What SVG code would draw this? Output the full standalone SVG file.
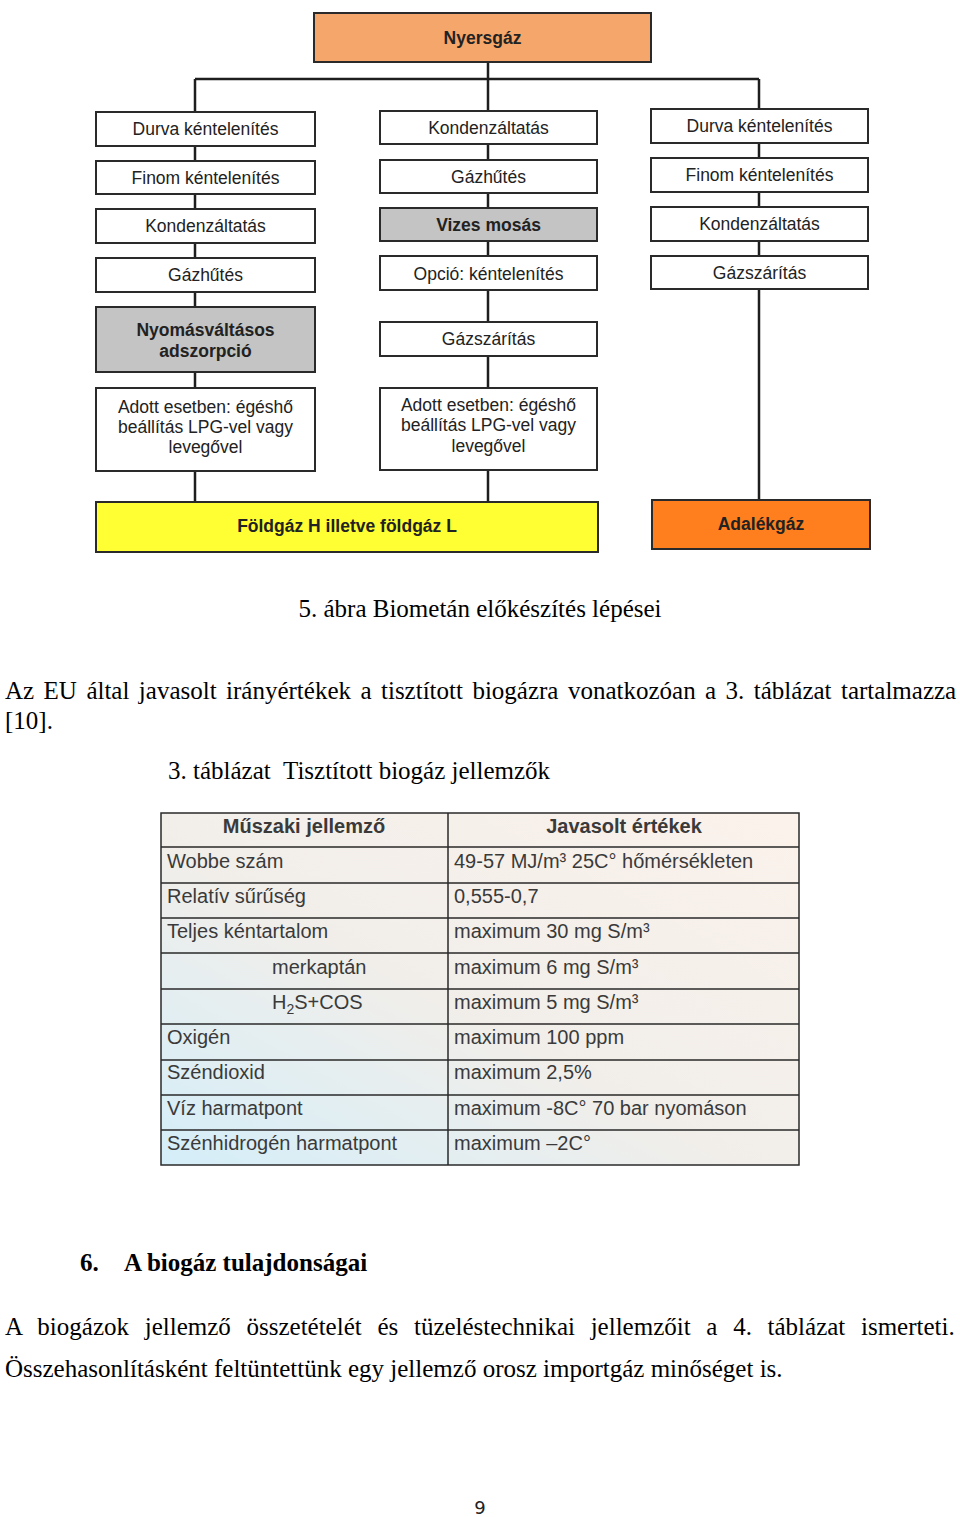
<svg xmlns="http://www.w3.org/2000/svg" width="960" height="1517" viewBox="0 0 960 1517">
<defs>
<style>
.box{fill:#fff;stroke:#2a2a2a;stroke-width:2}
.grey{fill:#c4c4c4}
.bl{font-family:"Liberation Sans",Arial,sans-serif;font-size:17.5px;fill:#222;text-anchor:middle}
.b{font-weight:bold}
.conn{stroke:#1e1e1e;stroke-width:2.5;fill:none}
.serif{font-family:"Liberation Serif","Times New Roman",serif;font-size:25px;fill:#000}
.tt{font-family:"Liberation Sans",Arial,sans-serif;font-size:20px;fill:#3a3a3a}
.grid{stroke:#2a2a2a;stroke-width:1.5;fill:none}
</style>
<linearGradient id="tg" x1="1" y1="0" x2="0" y2="1">
<stop offset="0" stop-color="#fbf2eb"/>
<stop offset="0.55" stop-color="#f1eeea"/>
<stop offset="1" stop-color="#d4eef9"/>
</linearGradient>
</defs>
<rect width="960" height="1517" fill="#fff"/>

<g id="connectors" class="conn">
<path d="M195,79 H759"/>
<path d="M195,79 V502"/>
<path d="M488,62 V502"/>
<path d="M759,79 V500"/>
</g>

<g id="n-nyersgaz"><rect x="314" y="13" width="337" height="49" fill="#f5a66a" stroke="#2a2a2a" stroke-width="2"/><text class="bl b" x="482.5" y="44">Nyersgáz</text></g>

<g id="n-l1"><rect class="box" x="96" y="112" width="219" height="34"/><text class="bl" x="205.5" y="135">Durva kéntelenítés</text></g>
<g id="n-l2"><rect class="box" x="96" y="161" width="219" height="33"/><text class="bl" x="205.5" y="184">Finom kéntelenítés</text></g>
<g id="n-l3"><rect class="box" x="96" y="209" width="219" height="34"/><text class="bl" x="205.5" y="232">Kondenzáltatás</text></g>
<g id="n-l4"><rect class="box" x="96" y="258" width="219" height="34"/><text class="bl" x="205.5" y="281">Gázhűtés</text></g>
<g id="n-l5"><rect class="box grey" x="96" y="307" width="219" height="65"/><text class="bl b" x="205.5" y="336">Nyomásváltásos</text><text class="bl b" x="205.5" y="357">adszorpció</text></g>
<g id="n-l6"><rect class="box" x="96" y="388" width="219" height="83"/><text class="bl" x="205.5" y="413">Adott esetben: égéshő</text><text class="bl" x="205.5" y="433">beállítás LPG-vel vagy</text><text class="bl" x="205.5" y="453">levegővel</text></g>

<g id="n-m1"><rect class="box" x="380" y="111" width="217" height="33"/><text class="bl" x="488.5" y="134">Kondenzáltatás</text></g>
<g id="n-m2"><rect class="box" x="380" y="160" width="217" height="33"/><text class="bl" x="488.5" y="183">Gázhűtés</text></g>
<g id="n-m3"><rect class="box grey" x="380" y="208" width="217" height="33"/><text class="bl b" x="488.5" y="231">Vizes mosás</text></g>
<g id="n-m4"><rect class="box" x="380" y="256" width="217" height="34"/><text class="bl" x="488.5" y="280">Opció: kéntelenítés</text></g>
<g id="n-m5"><rect class="box" x="380" y="322" width="217" height="34"/><text class="bl" x="488.5" y="345">Gázszárítás</text></g>
<g id="n-m6"><rect class="box" x="380" y="388" width="217" height="82"/><text class="bl" x="488.5" y="411">Adott esetben: égéshő</text><text class="bl" x="488.5" y="431">beállítás LPG-vel vagy</text><text class="bl" x="488.5" y="452">levegővel</text></g>

<g id="n-r1"><rect class="box" x="651" y="109" width="217" height="34"/><text class="bl" x="759.5" y="132">Durva kéntelenítés</text></g>
<g id="n-r2"><rect class="box" x="651" y="158" width="217" height="34"/><text class="bl" x="759.5" y="181">Finom kéntelenítés</text></g>
<g id="n-r3"><rect class="box" x="651" y="207" width="217" height="34"/><text class="bl" x="759.5" y="230">Kondenzáltatás</text></g>
<g id="n-r4"><rect class="box" x="651" y="256" width="217" height="33"/><text class="bl" x="759.5" y="279">Gázszárítás</text></g>

<g id="n-foldgaz"><rect x="96" y="502" width="502" height="50" fill="#ffff33" stroke="#2a2a2a" stroke-width="2"/><text class="bl b" x="347" y="532">Földgáz H illetve földgáz L</text></g>
<g id="n-adalekgaz"><rect x="652" y="500" width="218" height="49" fill="#ff7f1e" stroke="#2a2a2a" stroke-width="2"/><text class="bl b" x="761" y="530">Adalékgáz</text></g>

<text class="serif" x="480" y="617" text-anchor="middle">5. ábra Biometán előkészítés lépései</text>
<text class="serif" x="5" y="699" word-spacing="3.2">Az EU által javasolt irányértékek a tisztított biogázra vonatkozóan a 3. táblázat tartalmazza</text>
<text class="serif" x="5" y="729">[10].</text>
<text class="serif" x="168" y="779">3. táblázat<tspan x="283">Tisztított biogáz jellemzők</tspan></text>

<g id="table">
<rect x="161" y="813" width="638" height="352" fill="url(#tg)"/>
<path class="grid" d="M161,847 H799 M161,883 H799 M161,918 H799 M161,953 H799 M161,989 H799 M161,1024 H799 M161,1060 H799 M161,1095 H799 M161,1130 H799 M448,813 V1165"/>
<rect class="grid" x="161" y="813" width="638" height="352" stroke-width="2"/>
<text class="tt b" x="304" y="833" text-anchor="middle">Műszaki jellemző</text>
<text class="tt b" x="624" y="833" text-anchor="middle">Javasolt értékek</text>
<text class="tt" x="167" y="868">Wobbe szám</text>
<text class="tt" x="167" y="903">Relatív sűrűség</text>
<text class="tt" x="167" y="938">Teljes kéntartalom</text>
<text class="tt" x="272" y="974">merkaptán</text>
<text class="tt" x="272" y="1009">H<tspan font-size="14" dy="5">2</tspan><tspan dy="-5">S+COS</tspan></text>
<text class="tt" x="167" y="1044">Oxigén</text>
<text class="tt" x="167" y="1079">Széndioxid</text>
<text class="tt" x="167" y="1115">Víz harmatpont</text>
<text class="tt" x="167" y="1150">Szénhidrogén harmatpont</text>
<text class="tt" x="454" y="868">49-57 MJ/m³ 25C° hőmérsékleten</text>
<text class="tt" x="454" y="903">0,555-0,7</text>
<text class="tt" x="454" y="938">maximum 30 mg S/m³</text>
<text class="tt" x="454" y="974">maximum 6 mg S/m³</text>
<text class="tt" x="454" y="1009">maximum 5 mg S/m³</text>
<text class="tt" x="454" y="1044">maximum 100 ppm</text>
<text class="tt" x="454" y="1079">maximum 2,5%</text>
<text class="tt" x="454" y="1115">maximum -8C° 70 bar nyomáson</text>
<text class="tt" x="454" y="1150">maximum –2C°</text>
</g>

<text class="serif" x="80" y="1271" font-weight="bold">6.<tspan x="124">A biogáz tulajdonságai</tspan></text>
<text class="serif" x="5" y="1335" word-spacing="9.45">A biogázok jellemző összetételét és tüzeléstechnikai jellemzőit a 4. táblázat ismerteti.</text>
<text class="serif" x="5" y="1377">Összehasonlításként feltüntettünk egy jellemző orosz importgáz minőséget is.</text>
<text x="480" y="1514" text-anchor="middle" font-family="DejaVu Sans, sans-serif" font-size="18" fill="#222">9</text>
</svg>
